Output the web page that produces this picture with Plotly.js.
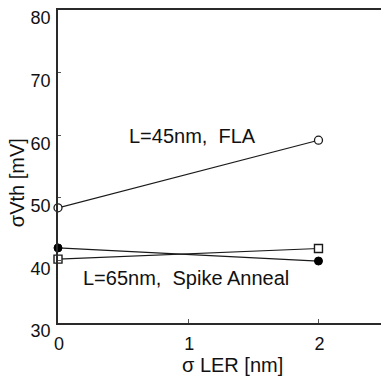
<!DOCTYPE html>
<html><head><meta charset="utf-8">
<script src="https://cdn.plot.ly/plotly-3.0.1.min.js"></script>
<style>html,body{margin:0;padding:0;overflow:hidden;background:#fff}</style>
</head><body><div id="chart" style="width:381px;height:379px"></div>
<script>
const xLER = [0, 2];
const flaVth = [48.4, 59.2];          // L=45nm, FLA (open circles)
const spikeFilled = [42.0, 39.9];     // L=65nm, Spike Anneal (filled circles)
const spikeSquare = [40.2, 41.9];     // L=65nm, Spike Anneal (open squares)
const xTicks = [0, 1, 2];
const yTicks = [30, 40, 50, 60, 70, 80];
const labelFLA = 'L=45nm,  FLA';
const labelSpike = 'L=65nm,  Spike Anneal';
const xTitle = 'σ LER [nm]';
const yTitle = 'σVth [mV]';

const lineC = '#1a1a1a';
const font = {family: 'Liberation Sans, Arial, sans-serif', color: '#111'};

const traces = [
  {x: xLER, y: flaVth, mode: 'lines+markers', line: {color: lineC, width: 1.2},
   marker: {symbol: 'circle', size: 8, color: '#fff', line: {color: lineC, width: 1.3}}, cliponaxis: false},
  {x: xLER, y: spikeFilled, mode: 'lines+markers', line: {color: lineC, width: 1.2},
   marker: {symbol: 'circle', size: 8, color: '#000', line: {color: '#000', width: 1}}, cliponaxis: false},
  {x: xLER, y: spikeSquare, mode: 'lines+markers', line: {color: lineC, width: 1.2},
   marker: {symbol: 'square', size: 8, color: '#fff', line: {color: lineC, width: 1.4}}, cliponaxis: false}
];

const layout = {
  width: 381, height: 379,
  margin: {l: 58, r: 0, t: 10, b: 56},
  paper_bgcolor: '#fff', plot_bgcolor: '#fff',
  showlegend: false,
  font: Object.assign({size: 18}, font),
  xaxis: {
    range: [0, 2.48], tickvals: xTicks, ticktext: xTicks.map(String),
    showgrid: false, zeroline: false, showline: true, linecolor: '#2a2a2a', linewidth: 1.8,
    mirror: true, ticks: 'inside', ticklen: 4, tickcolor: '#555', tickwidth: 1,
    tickfont: Object.assign({size: 18}, font), ticklabelshift: 1, ticklabelstandoff: 4
  },
  yaxis: {
    range: [30, 80], tickvals: yTicks, ticktext: yTicks.map(String),
    showgrid: false, zeroline: false, showline: true, linecolor: '#2a2a2a', linewidth: 1.8,
    mirror: false, ticks: 'inside', ticklen: 3, tickcolor: '#555', tickwidth: 1,
    tickfont: Object.assign({size: 18}, font), ticklabelshift: 8, ticklabelstandoff: 2,
    ticklabeloverflow: 'allow'
  },
  annotations: [
    {xref: 'paper', yref: 'paper', x: -0.127, y: 0.45, text: yTitle, textangle: -90,
     showarrow: false, font: Object.assign({size: 20}, font), xanchor: 'center', yanchor: 'middle'},
    {xref: 'x', yref: 'paper', x: 1.34, y: -0.135, text: xTitle,
     showarrow: false, font: Object.assign({size: 20}, font), xanchor: 'center', yanchor: 'middle'},
    {xref: 'x', yref: 'y', x: 0.53, y: 59.9, text: labelFLA, showarrow: false,
     font: Object.assign({size: 20}, font), xanchor: 'left', yanchor: 'middle'},
    {xref: 'x', yref: 'y', x: 0.18, y: 37.2, text: labelSpike, showarrow: false,
     font: Object.assign({size: 20}, font), xanchor: 'left', yanchor: 'middle'}
  ]
};

Plotly.newPlot('chart', traces, layout, {displayModeBar: false, staticPlot: true});
</script></body></html>
